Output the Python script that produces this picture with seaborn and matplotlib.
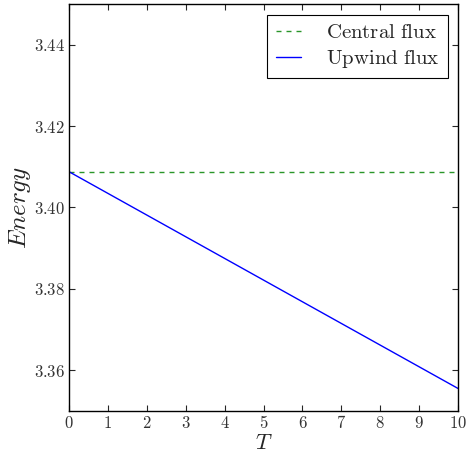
import matplotlib
matplotlib.use("Agg")
import matplotlib.pyplot as plt
import matplotlib.ticker as mticker
import numpy as np
import pandas as pd
import seaborn as sns

# datos
t = [0, 10]
central = [3.4088, 3.4088]
upwind = [3.4088, 3.3555]

sns.set_style("ticks")
plt.rcParams['mathtext.fontset'] = 'cm'
plt.rcParams['font.family'] = ['DejaVu Serif']

df = pd.DataFrame({"T": t + t,
                   "E": central + upwind,
                   "flux": ["Central flux"] * 2 + ["Upwind flux"] * 2})

fig = plt.figure(figsize=(4.66, 4.55), dpi=100)
ax = fig.add_axes([0.148, 0.097, 0.835, 0.894])

sns.lineplot(data=df[df.flux == "Central flux"], x="T", y="E", ax=ax,
             color="#2a962a", linewidth=1,
             label=r"$\mathrm{Central\ flux}$")
sns.lineplot(data=df[df.flux == "Upwind flux"], x="T", y="E", ax=ax,
             color=(0, 0, 1), linewidth=1,
             label=r"$\mathrm{Upwind\ flux}$")
ax.lines[0].set_dashes((3.6, 3.6))

ax.set_xlim(0, 10)
ax.set_ylim(3.35, 3.45)
ax.set_xticks(np.arange(0, 11, 1))
ax.set_yticks([3.36, 3.38, 3.40, 3.42, 3.44])
ax.xaxis.set_major_formatter(mticker.FuncFormatter(lambda v, p: r"$%d$" % v))
ax.yaxis.set_major_formatter(mticker.FuncFormatter(lambda v, p: r"$%.2f$" % v))
ax.tick_params(direction="in", top=True, right=True, length=4, width=0.8,
               labelsize=12, pad=3, labelcolor="#333333")
for s in ax.spines.values():
    s.set_linewidth(1)
    s.set_color("black")

ax.set_xlabel(r"$T$", fontsize=16, labelpad=0)
ax.set_ylabel(r"$Energy$", fontsize=18, labelpad=0.5)

leg = ax.legend(loc="upper right", fontsize=15, frameon=True, fancybox=False,
                edgecolor="black", framealpha=1, handlelength=1.2,
                handletextpad=1.2, borderpad=0.4, labelspacing=0.3,
                borderaxespad=0.5)
leg.get_frame().set_linewidth(0.8)

fig.savefig("out.png", dpi=100)
